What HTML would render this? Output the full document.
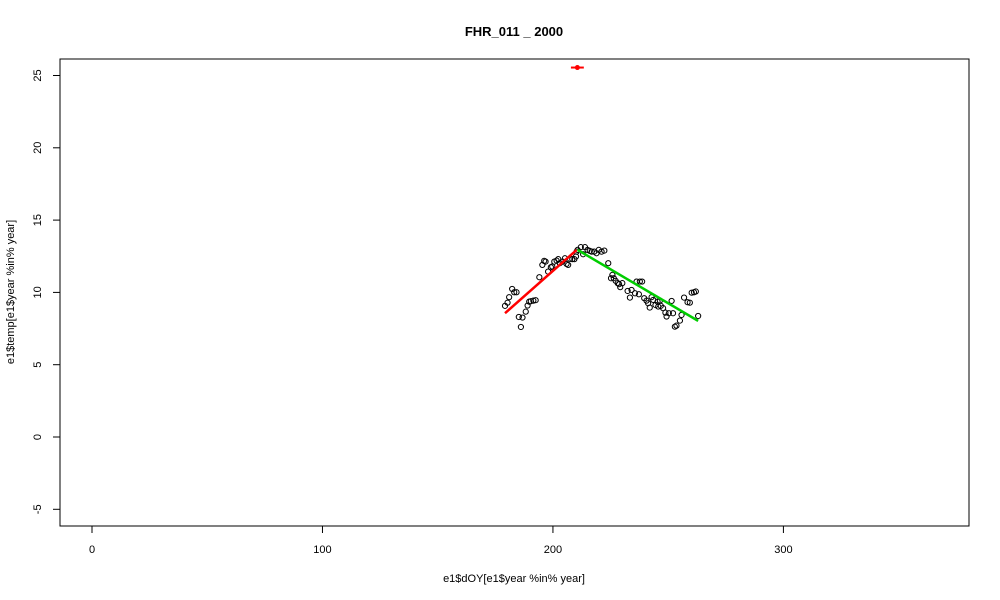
<!DOCTYPE html>
<html><head><meta charset="utf-8"><style>
body{margin:0;background:#fff;}
svg{display:block;font-family:"Liberation Sans",Arial,sans-serif;}
</style></head><body>
<svg id="chart" width="1000" height="600">
<rect x="0" y="0" width="1000" height="600" fill="#fff"/>
<text x="514" y="36" text-anchor="middle" font-weight="bold" font-size="13">FHR_011 _ 2000</text>
<rect x="60" y="59" width="909" height="467" fill="none" stroke="#000" stroke-width="1"/>
<text x="514" y="582" text-anchor="middle" font-size="11">e1$dOY[e1$year %in% year]</text>
<text x="0" y="0" transform="translate(14,292) rotate(-90)" text-anchor="middle" font-size="11">e1$temp[e1$year %in% year]</text>
<g id="axes"></g>
<g id="marks"></g>
</svg>
<script>
const xTicks=[0,100,200,300];
const yTicks=[-5,0,5,10,15,20,25];
const ptX=[179.2,180.3,181.0,182.3,183.2,184.2,185.2,186.1,186.8,188.2,189.0,189.7,190.4,191.5,192.5,194.1,195.4,196.2,196.8,197.9,199.1,199.7,200.6,201.6,202.3,203.0,204.2,205.2,205.9,206.6,207.4,208.4,209.3,210.0,210.3,210.7,212.1,213.1,213.9,215.0,216.0,216.8,217.9,218.9,219.9,221.1,222.3,224.0,225.2,225.8,226.4,227.2,228.1,228.7,229.2,230.1,232.4,233.4,234.1,235.6,236.3,237.3,237.7,238.7,239.6,240.6,241.3,242.0,242.8,243.5,244.5,245.4,245.7,246.4,246.8,247.8,248.8,249.3,250.3,251.5,252.1,252.9,253.6,255.1,255.8,256.9,258.4,259.4,260.2,261.2,262.0,263.0];
const ptY=[9.07,9.29,9.67,10.24,10.01,10.01,8.30,7.61,8.26,8.67,9.09,9.36,9.39,9.43,9.46,11.05,11.90,12.18,12.13,11.44,11.74,11.79,12.13,12.20,12.30,12.02,12.13,12.36,11.97,11.90,12.32,12.30,12.30,12.48,12.82,12.94,13.13,12.64,13.13,12.94,12.87,12.82,12.82,12.71,12.94,12.82,12.89,12.02,10.98,11.21,10.98,10.80,10.64,10.57,10.36,10.64,10.10,9.64,10.17,9.94,10.75,9.87,10.75,10.75,9.60,9.43,9.25,8.95,9.67,9.48,9.13,9.36,9.02,9.43,9.07,8.91,8.60,8.33,8.56,9.41,8.56,7.63,7.70,8.05,8.44,9.64,9.32,9.29,9.98,10.01,10.06,8.37];
const redLineX=[179.2,210.3];
const redLineY=[8.56,12.94];
const greenLineX=[210.7,263.0];
const greenLineY=[12.94,8.03];
const topSegX=[207.8,213.4];
const topSegY=[25.55,25.55];
const topPtX=[210.6];
const topPtY=[25.55];

const sx=v=>92+v*2.3047;
const sy=v=>437-v*14.46;
const NS="http://www.w3.org/2000/svg";
const axes=document.getElementById('axes'),marks=document.getElementById('marks');
function mk(tag,attrs,parent){const e=document.createElementNS(NS,tag);for(const k in attrs)e.setAttribute(k,attrs[k]);parent.appendChild(e);return e;}
mk('line',{x1:sx(xTicks[0]),x2:sx(xTicks[xTicks.length-1]),y1:526,y2:526,stroke:'#000'},axes);
xTicks.forEach(t=>{
  const l=mk('line',{x1:sx(t),x2:sx(t),y1:526,y2:533,stroke:'#000'},axes);
  
  
  const tx=mk('text',{x:sx(t),y:553,'text-anchor':'middle','font-size':11},axes);
  tx.textContent=t;
  
  
});
mk('line',{x1:60,x2:60,y1:sy(yTicks[0]),y2:sy(yTicks[yTicks.length-1]),stroke:'#000'},axes);
yTicks.forEach(t=>{
  const l=mk('line',{x1:53,x2:60,y1:sy(t),y2:sy(t),stroke:'#000'},axes);
  
  
  const tx=mk('text',{x:0,y:0,transform:`translate(41,${sy(t)}) rotate(-90)`,'text-anchor':'middle','font-size':11},axes);
  tx.textContent=t;
  
  
});
ptX.forEach((x,i)=>{
  const c=mk('circle',{cx:sx(x),cy:sy(ptY[i]),r:2.6,fill:'none',stroke:'#000','stroke-width':1},marks);
  
  
});
const r=mk('line',{x1:sx(redLineX[0]),y1:sy(redLineY[0]),x2:sx(redLineX[1]),y2:sy(redLineY[1]),stroke:'#ff0000','stroke-width':2.5},marks);


const g=mk('line',{x1:sx(greenLineX[0]),y1:sy(greenLineY[0]),x2:sx(greenLineX[1]),y2:sy(greenLineY[1]),stroke:'#00cd00','stroke-width':2.5},marks);


const ts=mk('line',{x1:sx(topSegX[0]),y1:sy(topSegY[0]),x2:sx(topSegX[1]),y2:sy(topSegY[1]),stroke:'#ff0000','stroke-width':2},marks);


const tp=mk('circle',{cx:sx(topPtX[0]),cy:sy(topPtY[0]),r:2.5,fill:'#ff0000'},marks);


</script>
</body></html>
